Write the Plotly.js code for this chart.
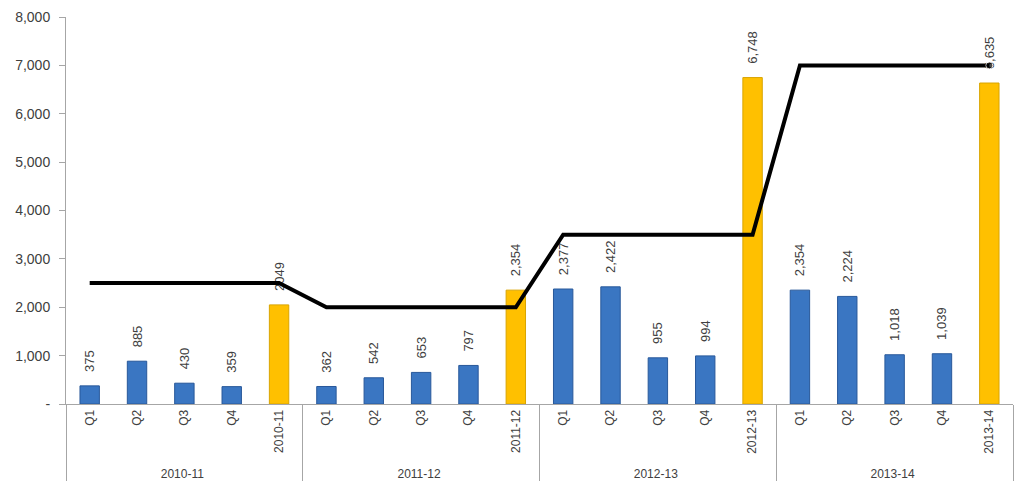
<!DOCTYPE html>
<html>
<head>
<meta charset="utf-8">
<script src="https://cdn.plot.ly/plotly-3.0.1.min.js"></script>
<style>html,body{margin:0;padding:0;background:#fff;}#chart{width:1014px;height:483px;}</style>
</head>
<body>
<div id="chart"></div>
<script>
const years = ["2010-11","2011-12","2012-13","2013-14"];
const periods = ["Q1","Q2","Q3","Q4"];
const values = [375, 885, 430, 359, 2049, 362, 542, 653, 797, 2354, 2377, 2422, 955, 994, 6748, 2354, 2224, 1018, 1039, 6635];
const labels = ["375","885","430","359","2049","362","542","653","797","2,354","2,377","2,422","955","994","6,748","2,354","2,224","1,018","1,039","6,635"];
const targets = [2500, 2000, 3500, 7000];
const yTickVals = [0,1000,2000,3000,4000,5000,6000,7000,8000];
const yTickText = ["-","1,000","2,000","3,000","4,000","5,000","6,000","7,000","8,000"];

const outer = [], inner = [], targetLine = [];
years.forEach((y, i) => {
  periods.concat([y]).forEach(p => { outer.push(y); inner.push(p); targetLine.push(targets[i]); });
});
const isAnnual = inner.map(p => !p.startsWith("Q"));
const fill = isAnnual.map(a => a ? "#ffc000" : "#3a76c2");
const edge = isAnnual.map(a => a ? "#d9a400" : "#28589a");
const markerSizes = targetLine.map((v, i) => i === targetLine.length - 1 ? 7 : 0);
const padded = labels.map(t => "\u00a0\u00a0\u00a0" + t);

const txtColor = "#404040";
const fam = "Liberation Sans, Arial, sans-serif";

Plotly.newPlot("chart", [
  {
    type: "bar", x: [outer, inner], y: values, text: padded,
    textposition: "outside", textangle: -90, constraintext: "none", cliponaxis: false,
    textfont: {family: fam, size: 13, color: txtColor},
    marker: {color: fill, line: {color: edge, width: 1}},
    hoverinfo: "y"
  },
  {
    type: "scatter", mode: "lines+markers", x: [outer, inner], y: targetLine,
    line: {color: "#000000", width: 4},
    marker: {size: markerSizes, color: "#000000"},
    cliponaxis: false
  }
], {
  width: 1014, height: 483,
  margin: {l: 66, r: 1, t: 17, b: 79},
  paper_bgcolor: "#ffffff", plot_bgcolor: "#ffffff",
  showlegend: false, bargap: 0.59,
  font: {family: fam, size: 12, color: txtColor},
  xaxis: {
    type: "multicategory", range: [-0.5, 19.5], tickangle: -90,
    showline: true, linecolor: "#a6a6a6", linewidth: 1,
    ticks: "", showgrid: false, zeroline: false,
    showdividers: true, dividercolor: "#a6a6a6", dividerwidth: 1,
    tickfont: {family: fam, size: 12, color: txtColor}
  },
  yaxis: {
    range: [0, 8000], tickvals: yTickVals, ticktext: yTickText,
    showline: true, linecolor: "#a6a6a6", linewidth: 1,
    ticks: "outside", ticklen: 6, tickcolor: "#a6a6a6",
    showgrid: false, zeroline: false, ticklabelstandoff: 6,
    tickfont: {family: fam, size: 14, color: txtColor}
  }
}, {displayModeBar: false, staticPlot: true});
</script>
</body>
</html>
